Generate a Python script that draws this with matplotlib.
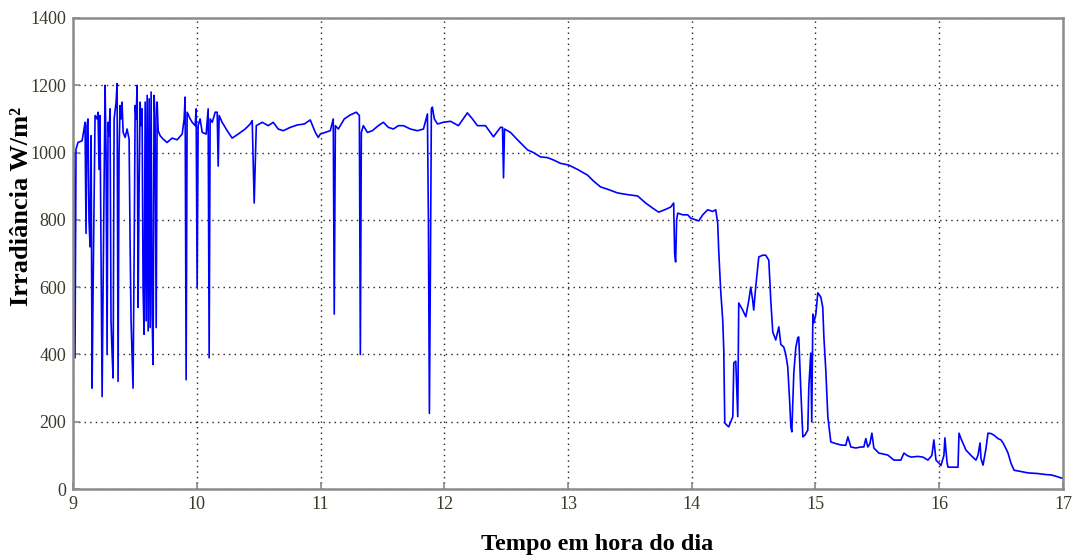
import matplotlib
matplotlib.use('Agg')
import matplotlib.pyplot as plt

# hour of day (decimal) and irradiance (W/m2)
hours = [
    9.000, 9.008, 9.016, 9.024, 9.040, 9.073, 9.089, 9.097, 9.105, 9.113,
    9.121, 9.129, 9.138, 9.146, 9.154, 9.162, 9.178, 9.194, 9.202, 9.210,
    9.218, 9.235, 9.243, 9.259, 9.267, 9.275, 9.283, 9.291, 9.299, 9.307,
    9.316, 9.324, 9.332, 9.348, 9.356, 9.364, 9.372, 9.380, 9.388, 9.396,
    9.405, 9.421, 9.437, 9.453, 9.461, 9.469, 9.485, 9.494, 9.502, 9.510,
    9.518, 9.526, 9.534, 9.542, 9.550, 9.558, 9.566, 9.574, 9.583, 9.591,
    9.599, 9.607, 9.615, 9.623, 9.631, 9.639, 9.647, 9.655, 9.663, 9.672,
    9.680, 9.688, 9.704, 9.728, 9.760, 9.801, 9.841, 9.882, 9.898, 9.906,
    9.914, 9.922, 9.947, 9.963, 9.987, 9.995, 10.003, 10.011, 10.027, 10.044,
    10.076, 10.092, 10.100, 10.108, 10.125, 10.149, 10.165, 10.173, 10.181, 10.205,
    10.246, 10.286, 10.335, 10.391, 10.432, 10.448, 10.464, 10.481, 10.529, 10.578,
    10.618, 10.658, 10.699, 10.756, 10.812, 10.869, 10.917, 10.958, 10.982, 10.998,
    11.039, 11.079, 11.103, 11.111, 11.120, 11.144, 11.192, 11.241, 11.290, 11.314,
    11.322, 11.330, 11.346, 11.379, 11.419, 11.467, 11.508, 11.548, 11.589, 11.629,
    11.670, 11.726, 11.783, 11.832, 11.864, 11.872, 11.880, 11.888, 11.896, 11.904,
    11.920, 11.945, 11.993, 12.050, 12.115, 12.187, 12.228, 12.268, 12.333, 12.398,
    12.454, 12.471, 12.479, 12.487, 12.535, 12.600, 12.673, 12.721, 12.778, 12.835,
    12.883, 12.940, 13.005, 13.077, 13.158, 13.207, 13.263, 13.328, 13.401, 13.482,
    13.563, 13.628, 13.684, 13.733, 13.781, 13.830, 13.854, 13.862, 13.870, 13.878,
    13.887, 13.927, 13.968, 13.992, 14.032, 14.057, 14.089, 14.129, 14.170, 14.194,
    14.210, 14.218, 14.234, 14.251, 14.259, 14.267, 14.283, 14.299, 14.315, 14.332,
    14.340, 14.356, 14.364, 14.372, 14.380, 14.412, 14.437, 14.461, 14.477, 14.493,
    14.501, 14.517, 14.542, 14.574, 14.598, 14.623, 14.639, 14.655, 14.679, 14.704,
    14.720, 14.744, 14.760, 14.776, 14.793, 14.801, 14.809, 14.825, 14.841, 14.857,
    14.865, 14.881, 14.898, 14.914, 14.938, 14.946, 14.962, 14.970, 14.979, 14.987,
    15.003, 15.019, 15.043, 15.059, 15.068, 15.084, 15.100, 15.124, 15.165, 15.205,
    15.245, 15.262, 15.286, 15.326, 15.367, 15.391, 15.407, 15.423, 15.440, 15.456,
    15.472, 15.512, 15.585, 15.634, 15.690, 15.715, 15.739, 15.771, 15.828, 15.868,
    15.909, 15.941, 15.957, 15.974, 15.998, 16.014, 16.038, 16.046, 16.063, 16.071,
    16.111, 16.152, 16.160, 16.176, 16.216, 16.257, 16.297, 16.313, 16.330, 16.338,
    16.354, 16.378, 16.394, 16.418, 16.443, 16.475, 16.499, 16.516, 16.540, 16.556,
    16.580, 16.605, 16.661, 16.718, 16.766, 16.799, 16.863, 16.904, 16.944, 16.985,
    17.000,
]
irradiance = [
    985, 1000, 390, 1010, 1030, 1035, 1070, 1090, 760, 1080,
    1100, 800, 720, 1050, 300, 590, 1110, 1100, 1120, 950,
    1110, 275, 600, 1200, 1000, 400, 1090, 1050, 1130, 500,
    400, 330, 1100, 1150, 1205, 320, 1000, 1140, 1100, 1150,
    1060, 1045, 1070, 1040, 740, 500, 300, 700, 1140, 1100,
    1200, 540, 900, 1150, 1080, 1130, 600, 460, 1150, 500,
    1170, 470, 1160, 480, 1180, 520, 370, 1170, 1100, 480,
    1150, 1065, 1050, 1040, 1030, 1043, 1038, 1055, 1100, 1165,
    325, 1120, 1100, 1090, 1080, 1130, 600, 1080, 1100, 1060,
    1055, 1130, 390, 1100, 1090, 1120, 1120, 960, 1110, 1090,
    1065, 1043, 1055, 1070, 1085, 1095, 850, 1080, 1090, 1080,
    1090, 1070, 1065, 1075, 1082, 1085, 1097, 1060, 1045, 1055,
    1060, 1065, 1100, 520, 1080, 1070, 1100, 1112, 1120, 1110,
    400, 1060, 1080, 1060, 1065, 1080, 1090, 1075, 1070, 1080,
    1080, 1070, 1065, 1070, 1115, 800, 225, 650, 1130, 1135,
    1100, 1085, 1090, 1093, 1080, 1118, 1100, 1080, 1080, 1047,
    1075, 1075, 925, 1070, 1060, 1035, 1008, 1000, 987, 985,
    978, 968, 963, 950, 933, 915, 898, 890, 880, 875,
    871, 850, 835, 823, 830, 838, 850, 700, 675, 800,
    820, 815, 815, 805, 800, 797, 815, 830, 825, 830,
    790, 710, 590, 500, 413, 197, 190, 185, 200, 215,
    375, 380, 300, 215, 553, 532, 512, 560, 600, 560,
    532, 600, 690, 695, 695, 680, 560, 467, 443, 482,
    430, 422, 400, 363, 250, 185, 170, 345, 420, 450,
    452, 300, 155, 160, 175, 300, 404, 200, 520, 494,
    520, 583, 571, 540, 452, 350, 215, 140, 135, 131,
    130, 155, 125, 122, 125, 125, 150, 125, 135, 166,
    122, 107, 101, 86, 86, 107, 100, 95, 97, 95,
    86, 100, 146, 86, 77, 70, 100, 152, 80, 65,
    65, 65, 166, 150, 116, 100, 86, 100, 137, 90,
    71, 120, 166, 165, 160, 150, 146, 137, 120, 107,
    77, 56, 52, 48, 47, 46, 43, 42, 38, 33,
    32,
]

x_ticks = [9, 10, 11, 12, 13, 14, 15, 16, 17]
y_ticks = [0, 200, 400, 600, 800, 1000, 1200, 1400]

serif = ['Liberation Serif', 'DejaVu Serif']

fig = plt.figure(figsize=(10.74, 5.57), dpi=100)
ax = fig.add_axes([0.068, 0.122, 0.9217, 0.8457])

ax.plot(hours, irradiance, color='#0000ff', linewidth=1.2)

ax.set_xlim(9, 17)
ax.set_ylim(0, 1400)
ax.set_xticks(x_ticks)
ax.set_yticks(y_ticks)
ax.grid(True, linestyle=(0, (1, 3)), color='#222222', linewidth=1.0)
ax.tick_params(direction='in', color='#888888', length=5, width=1.2,
               labelsize=13, labelcolor='#3a3a2c', pad=5)
for lbl in ax.get_xticklabels() + ax.get_yticklabels():
    lbl.set_family(serif)
for sp in ax.spines.values():
    sp.set_color('#8c8c8c')
    sp.set_linewidth(1.8)

ax.set_xlabel('Tempo em hora do dia', family=serif, fontweight='bold',
              fontsize=17.5)
ax.xaxis.set_label_coords(0.529, -0.096)
ax.set_ylabel('Irradiância W/m²', family=serif, fontweight='bold',
              fontsize=19)
ax.yaxis.set_label_coords(-0.040, 0.60)

plt.savefig('out.png', dpi=100)
plt.close()
